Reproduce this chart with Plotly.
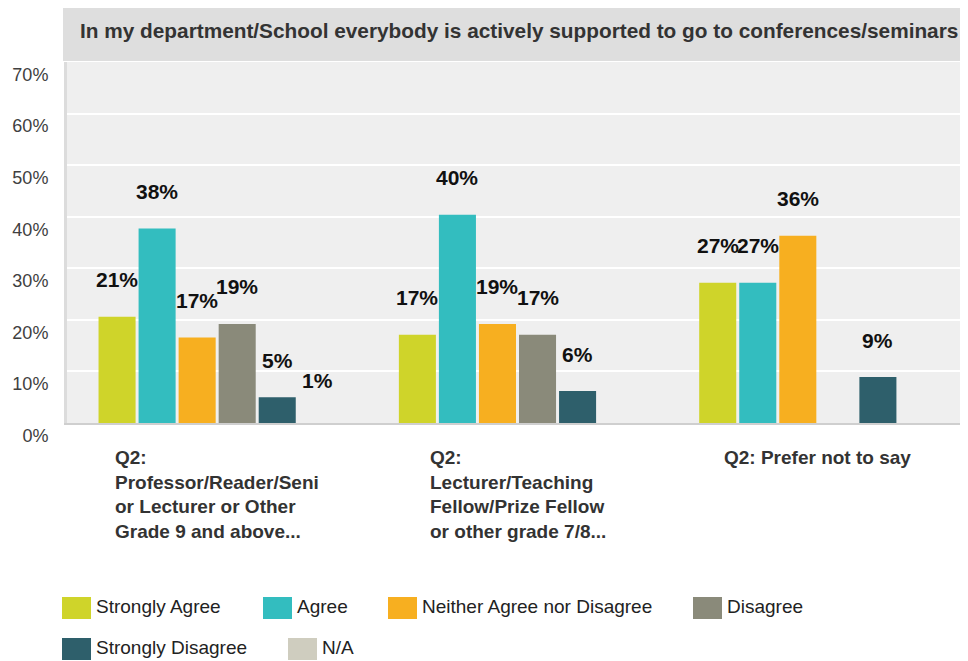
import plotly.graph_objects as go

# categories (x axis) and series values in %
categories = [
    "Q2:<br>Professor/Reader/Seni<br>or Lecturer or Other<br>Grade 9 and above...",
    "Q2:<br>Lecturer/Teaching<br>Fellow/Prize Fellow<br>or other grade 7/8...",
    "Q2: Prefer not to say",
]
series_names = ["Strongly Agree", "Agree", "Neither Agree nor Disagree",
                "Disagree", "Strongly Disagree", "N/A"]
strongly_agree = [20.6, 17.1, 27.2]
agree = [37.7, 40.4, 27.2]
neither = [16.6, 19.2, 36.3]
disagree = [19.2, 17.1, 0]
strongly_disagree = [5.0, 6.2, 8.9]
not_applicable = [1.0, 0, 0]
y_ticks = [0, 10, 20, 30, 40, 50, 60, 70]
y_tick_labels = ["0%", "10%", "20%", "30%", "40%", "50%", "60%", "70%"]

title = "In my department/School everybody is actively supported to go to conferences/seminars"

colors = ["#cfd42a", "#33bdbf", "#f7af20", "#8a8a7a", "#2e5f6b", "#cfcdbf"]
values = [strongly_agree, agree, neither, disagree, strongly_disagree, not_applicable]

# page is 968x661 but the html body has an 8px margin
OFF = 8
W, H = 968 - OFF, 661 - OFF
# plot area in page pixels
PX0, PX1, PY0, PY1 = 67, 968, 62, 423
FONT = "Liberation Sans, Arial, sans-serif"


def px(x):
    return (x - PX0) / (PX1 - PX0)


def py(y):
    return (PY1 - y) / (PY1 - PY0)


fig = go.Figure()
for name, vals, col in zip(series_names, values, colors):
    fig.add_trace(go.Bar(
        x=categories, y=vals, name=name,
        marker=dict(color=col, line=dict(width=0)),
        # the N/A bar is not drawn in the original chart, only its label
        opacity=0 if name == "N/A" else 1,
        showlegend=False, hoverinfo="skip",
    ))

# data labels above each bar
slot = (PX1 - PX0) / len(categories) * 0.8 / len(series_names)
annotations = []
for i, vals in enumerate(values):
    for cat, v in zip(categories, vals):
        if v == 0:
            continue
        annotations.append(dict(
            x=cat, y=v, xref="x", yref="y", text=f"{round(v)}%",
            showarrow=False, xanchor="center", yanchor="middle",
            xshift=(i - 2.5) * slot, yshift=37,
            font=dict(family=FONT, size=21, color="#111111", weight="bold"),
        ))

# category labels (left aligned block under each group)
for cat in categories:
    annotations.append(dict(
        x=cat, y=py(445), xref="x", yref="paper", text=cat,
        showarrow=False, xanchor="center", yanchor="top", align="left",
        font=dict(family=FONT, size=19, color="#333333", weight="bold"),
    ))

# title
annotations.append(dict(
    x=px(519), y=py(31), xref="paper", yref="paper", text=title,
    showarrow=False, xanchor="center", yanchor="middle",
    font=dict(family=FONT, size=20.8, color="#333333", weight="bold"),
))

shapes = [dict(type="rect", xref="paper", yref="paper",
               x0=px(63), x1=px(968), y0=py(61), y1=py(6),
               fillcolor="#dedede", line=dict(width=0), layer="below")]

# legend (two rows, like the original)
legend_pos = [(62, 608), (263, 608), (388, 608), (693, 608), (62, 649), (288, 649)]
for name, col, (lx, ly) in zip(series_names, colors, legend_pos):
    shapes.append(dict(type="rect", xref="paper", yref="paper",
                       x0=px(lx), x1=px(lx + 29), y0=py(ly + 11), y1=py(ly - 11),
                       fillcolor=col, line=dict(width=0)))
    annotations.append(dict(
        x=px(lx + 32), y=py(ly - 2), xref="paper", yref="paper", text=name,
        showarrow=False, xanchor="left", yanchor="middle",
        font=dict(family=FONT, size=19, color="#222222"),
    ))

fig.update_layout(
    width=W, height=H,
    margin=dict(l=PX0 - OFF, r=W + OFF - PX1, t=PY0 - OFF, b=H + OFF - PY1, pad=0),
    paper_bgcolor="white", plot_bgcolor="#efefef",
    barmode="group", bargap=0.2, bargroupgap=0.075,
    annotations=annotations, shapes=shapes,
    font=dict(family=FONT),
)
fig.update_xaxes(showticklabels=False, showgrid=False, zeroline=False,
                 showline=True, linecolor="#cfcfcf", linewidth=2, ticks="")
fig.update_yaxes(range=[0, 70], tickvals=y_ticks, ticktext=y_tick_labels,
                 showgrid=True, gridcolor="white", gridwidth=2, zeroline=False,
                 showline=True, linecolor="#dcdcdc", linewidth=3, ticks="",
                 ticklabelposition="outside bottom", ticklabelstandoff=12,
                 tickfont=dict(family=FONT, size=18, color="#404040"))

fig.write_html("out.html")
